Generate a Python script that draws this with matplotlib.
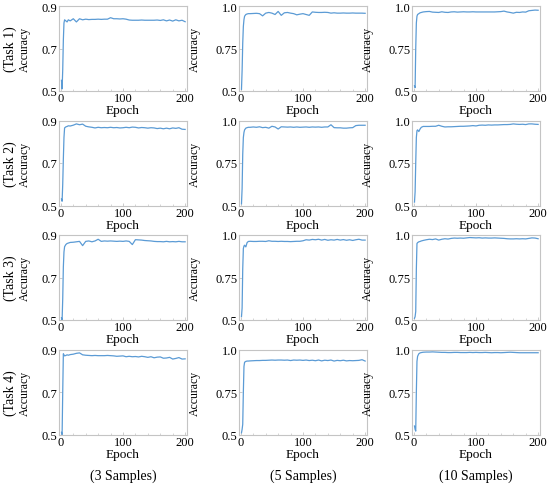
import numpy as np
import matplotlib.pyplot as plt
from matplotlib.ticker import MultipleLocator, FixedLocator, FixedFormatter

plt.rcParams['font.family'] = ['Liberation Serif', 'DejaVu Serif']

EPOCHS = [1, 2, 3, 4, 5, 6, 8, 10, 12] + list(range(15, 201, 5))

TASKS = ['(Task 1)', '(Task 2)', '(Task 3)', '(Task 4)']
SAMPLES = ['(3 Samples)', '(5 Samples)', '(10 Samples)']

# ---- Task 1 ----
t1_s3 = [0.55, 0.51, 0.60, 0.74, 0.82, 0.835, 0.83, 0.825, 0.835,
         0.83, 0.84, 0.825, 0.84, 0.835, 0.838, 0.836, 0.837, 0.837, 0.838,
         0.837, 0.838, 0.838, 0.845, 0.84, 0.84, 0.839, 0.84, 0.838, 0.834,
         0.833, 0.833, 0.833, 0.834, 0.833, 0.833, 0.833, 0.833, 0.834, 0.832,
         0.835, 0.83, 0.834, 0.829, 0.835, 0.83, 0.833, 0.826]
t1_s5 = [0.51, 0.62, 0.78, 0.88, 0.92, 0.94, 0.95, 0.953, 0.955,
         0.955, 0.956, 0.957, 0.955, 0.942, 0.958, 0.962, 0.958, 0.95, 0.968,
         0.945, 0.96, 0.962, 0.958, 0.955, 0.948, 0.952, 0.955, 0.95, 0.945,
         0.965, 0.963, 0.962, 0.962, 0.963, 0.962, 0.958, 0.96, 0.958, 0.958,
         0.959, 0.958, 0.958, 0.959, 0.958, 0.958, 0.958, 0.957]
t1_s10 = [0.53, 0.52, 0.75, 0.90, 0.94, 0.95, 0.955, 0.96, 0.962,
          0.965, 0.967, 0.968, 0.964, 0.963, 0.962, 0.966, 0.963, 0.962, 0.965,
          0.966, 0.964, 0.965, 0.966, 0.965, 0.965, 0.966, 0.965, 0.965, 0.965,
          0.965, 0.965, 0.965, 0.965, 0.966, 0.967, 0.97, 0.965, 0.962, 0.958,
          0.963, 0.962, 0.965, 0.964, 0.972, 0.974, 0.976, 0.975]

# ---- Task 2 ----
t2_s3 = [0.53, 0.52, 0.60, 0.72, 0.82, 0.865, 0.87, 0.872, 0.875,
         0.874, 0.878, 0.884, 0.88, 0.883, 0.873, 0.87, 0.868, 0.865, 0.868,
         0.866, 0.867, 0.866, 0.868, 0.866, 0.867, 0.865, 0.866, 0.868, 0.866,
         0.869, 0.868, 0.865, 0.867, 0.866, 0.864, 0.866, 0.865, 0.862, 0.864,
         0.861, 0.864, 0.861, 0.865, 0.863, 0.866, 0.859, 0.858]
t2_s5 = [0.51, 0.60, 0.80, 0.90, 0.93, 0.945, 0.955, 0.958, 0.96,
         0.96, 0.962, 0.96, 0.963, 0.958, 0.96, 0.955, 0.966, 0.962, 0.95,
         0.963, 0.962, 0.961, 0.962, 0.96, 0.962, 0.96, 0.961, 0.962, 0.96,
         0.962, 0.961, 0.962, 0.96, 0.962, 0.962, 0.975, 0.958, 0.957, 0.957,
         0.955, 0.955, 0.957, 0.958, 0.97, 0.972, 0.972, 0.972]
t2_s10 = [0.52, 0.58, 0.75, 0.90, 0.94, 0.945, 0.935, 0.95, 0.96,
          0.965, 0.965, 0.965, 0.966, 0.966, 0.972, 0.966, 0.962, 0.963, 0.963,
          0.964, 0.965, 0.966, 0.966, 0.967, 0.968, 0.97, 0.968, 0.972, 0.973,
          0.972, 0.974, 0.973, 0.974, 0.974, 0.975, 0.976, 0.976, 0.977, 0.98,
          0.978, 0.977, 0.978, 0.976, 0.98, 0.98, 0.978, 0.977]

# ---- Task 3 ----
t3_s3 = [0.51, 0.50, 0.60, 0.75, 0.82, 0.845, 0.855, 0.86, 0.862,
         0.865, 0.866, 0.868, 0.87, 0.85, 0.87, 0.872, 0.868, 0.872, 0.88,
         0.87, 0.872, 0.871, 0.872, 0.871, 0.87, 0.871, 0.87, 0.872, 0.87,
         0.855, 0.878, 0.877, 0.876, 0.874, 0.873, 0.872, 0.87, 0.869, 0.869,
         0.868, 0.87, 0.868, 0.869, 0.868, 0.87, 0.868, 0.868]
t3_s5 = [0.52, 0.57, 0.80, 0.92, 0.935, 0.94, 0.93, 0.955, 0.962,
         0.963, 0.962, 0.962, 0.963, 0.963, 0.962, 0.966, 0.963, 0.963, 0.962,
         0.963, 0.962, 0.962, 0.961, 0.962, 0.963, 0.963, 0.966, 0.972, 0.97,
         0.974, 0.972, 0.975, 0.97, 0.974, 0.969, 0.972, 0.97, 0.974, 0.97,
         0.973, 0.969, 0.972, 0.968, 0.972, 0.975, 0.97, 0.97]
t3_s10 = [0.51, 0.52, 0.55, 0.80, 0.95, 0.955, 0.96, 0.962, 0.965,
          0.968, 0.972, 0.975, 0.973, 0.977, 0.97, 0.975, 0.978, 0.976, 0.98,
          0.982, 0.981, 0.982, 0.981, 0.983, 0.985, 0.984, 0.983, 0.984, 0.982,
          0.983, 0.982, 0.982, 0.983, 0.982, 0.981, 0.98, 0.978, 0.977, 0.977,
          0.978, 0.977, 0.978, 0.977, 0.98, 0.983, 0.982, 0.978]

# ---- Task 4 ----
t4_s3 = [0.51, 0.50, 0.70, 0.88, 0.875, 0.87, 0.872, 0.875, 0.873,
         0.876, 0.878, 0.882, 0.884, 0.875, 0.873, 0.872, 0.871, 0.872, 0.871,
         0.871, 0.871, 0.872, 0.871, 0.87, 0.868, 0.869, 0.87, 0.866, 0.868,
         0.866, 0.867, 0.865, 0.868, 0.866, 0.863, 0.866, 0.861, 0.864, 0.865,
         0.859, 0.86, 0.863, 0.855, 0.858, 0.862, 0.855, 0.856]
t4_s5 = [0.51, 0.53, 0.56, 0.75, 0.90, 0.925, 0.93, 0.932, 0.932,
         0.933, 0.934, 0.935, 0.935, 0.936, 0.936, 0.937, 0.938, 0.937, 0.938,
         0.938, 0.937, 0.938, 0.935, 0.938, 0.937, 0.938, 0.936, 0.938, 0.935,
         0.937, 0.934, 0.938, 0.933, 0.937, 0.935, 0.938, 0.932, 0.936, 0.934,
         0.937, 0.933, 0.935, 0.934, 0.935, 0.936, 0.94, 0.932]
t4_s10 = [0.55, 0.53, 0.52, 0.75, 0.93, 0.96, 0.975, 0.98, 0.982,
          0.984, 0.985, 0.985, 0.986, 0.985, 0.984, 0.983, 0.983, 0.982, 0.982,
          0.983, 0.983, 0.982, 0.982, 0.982, 0.983, 0.982, 0.983, 0.982, 0.982,
          0.983, 0.982, 0.981, 0.982, 0.982, 0.981, 0.982, 0.983, 0.984, 0.983,
          0.982, 0.981, 0.981, 0.981, 0.981, 0.981, 0.981, 0.981]

curves = [[t1_s3, t1_s5, t1_s10],
          [t2_s3, t2_s5, t2_s10],
          [t3_s3, t3_s5, t3_s10],
          [t4_s3, t4_s5, t4_s10]]

# y range per sample column
y_ranges = [(0.5, 0.9), (0.5, 1.0), (0.5, 1.0)]
y_ticks = [[0.5, 0.7, 0.9], [0.5, 0.75, 1.0], [0.5, 0.75, 1.0]]
y_ticklabels = [['0.5', '0.7', '0.9'], ['0.5', '0.75', '1.0'], ['0.5', '0.75', '1.0']]
# "Accuracy" kept clear of the middle tick label
ylabel_x = [-0.22, -0.295, -0.295]

W, H = 550, 485
fig = plt.figure(figsize=(W / 100, H / 100), dpi=100)

col_left = [59, 239, 412]
ax_w = 128
row_top = [7, 121.5, 236, 350.5]
ax_h = 85

line_color = '#5b9bd5'
spine_color = '#c4c4c4'

for r in range(4):
    for c in range(3):
        ax = fig.add_axes([col_left[c] / W, 1 - (row_top[r] + ax_h) / H,
                           ax_w / W, ax_h / H])
        ax.plot(EPOCHS, curves[r][c], color=line_color, lw=0.9)
        ax.set_xlim(-3, 203)
        ax.set_ylim(*y_ranges[c])
        ax.set_xticks([0, 100, 200])
        ax.xaxis.set_minor_locator(MultipleLocator(20))
        ax.yaxis.set_major_locator(FixedLocator(y_ticks[c]))
        ax.yaxis.set_major_formatter(FixedFormatter(y_ticklabels[c]))
        ax.tick_params(which='both', direction='in', color=spine_color,
                       labelsize=9, pad=1)
        ax.tick_params(which='major', length=2.5, width=0.6)
        ax.tick_params(which='minor', length=1.5, width=0.5)
        for s in ax.spines.values():
            s.set_color(spine_color)
            s.set_linewidth(0.8)
        ax.set_xlabel('Epoch', fontsize=9.5, labelpad=0)
        ax.set_ylabel('Accuracy', fontsize=8.5)
        ax.yaxis.set_label_coords(ylabel_x[c], 0.5)

for r in range(4):
    fig.text(10 / W, 1 - (row_top[r] + ax_h / 2) / H, TASKS[r],
             rotation=90, ha='center', va='center', fontsize=10)

for c in range(3):
    fig.text((col_left[c] + ax_w / 2) / W, 1 - 476 / H, SAMPLES[c],
             ha='center', va='center', fontsize=10)

fig.savefig('out.png', dpi=100)
